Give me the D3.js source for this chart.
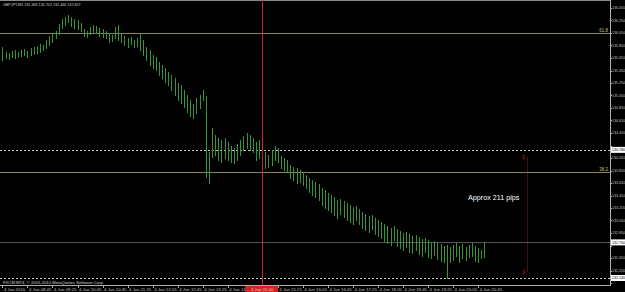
<!DOCTYPE html>
<html>
<head>
<meta charset="utf-8">
<script src="https://cdn.jsdelivr.net/npm/d3@7"></script>
<style>
  body { margin: 0; background: #000; }
  svg { display: block; }
  text { font-family: Arial, "Liberation Sans", sans-serif; }
</style>
</head>
<body>
<div id="chart"></div>
<script>
// bar highs and lows, one per 5 min bar from 08:05 to 20:55
var highs = [135.83,135.75,135.73,135.76,135.78,135.75,135.78,135.79,135.76,135.81,
  135.83,135.84,135.87,135.86,135.94,136.00,136.05,136.08,136.19,136.27,
  136.31,136.34,136.31,136.27,136.26,136.21,136.11,136.08,136.15,136.18,
  136.16,136.13,136.11,136.08,136.05,136.02,136.15,136.18,136.05,136.00,
  135.97,135.99,135.94,135.97,136.05,135.94,135.83,135.78,135.70,135.67,
  135.59,135.54,135.49,135.43,135.38,135.33,135.25,135.22,135.14,135.06,
  134.98,134.91,135.01,135.06,135.14,135.04,134.15,134.53,134.42,134.37,
  134.34,134.37,134.31,134.24,134.21,134.28,134.34,134.40,134.45,134.42,
  134.37,134.31,134.34,134.18,134.15,134.10,134.18,134.24,134.21,134.08,
  134.05,134.02,133.94,133.91,133.89,133.86,133.83,133.78,133.73,133.70,
  133.67,133.63,133.57,133.54,133.49,133.46,133.43,133.38,133.39,133.36,
  133.33,133.30,133.27,133.28,133.23,133.19,133.15,133.12,133.14,133.09,
  133.06,133.03,132.99,132.96,132.93,132.96,132.91,132.88,132.85,132.87,
  132.83,132.80,132.82,132.79,132.75,132.77,132.74,132.71,132.72,132.69,
  132.67,132.64,132.66,132.63,132.66,132.69,132.64,132.67,132.63,132.66,
  132.69,132.64,132.61,132.58,132.70];
var lows = [135.62,135.65,135.63,135.67,135.65,135.67,135.68,135.70,135.67,135.70,
  135.71,135.73,135.75,135.78,135.81,135.86,135.91,135.97,136.03,136.13,
  136.18,136.23,136.16,136.13,136.11,136.08,136.00,135.99,136.03,136.05,
  136.05,136.00,135.99,135.97,135.91,135.92,135.97,135.94,135.91,135.86,
  135.83,135.87,135.83,135.84,135.78,135.70,135.62,135.54,135.49,135.46,
  135.38,135.33,135.27,135.22,135.14,135.06,134.98,134.93,134.87,134.79,
  134.72,134.69,134.77,134.85,134.98,133.75,133.65,134.07,134.10,134.02,
  133.99,134.05,134.02,133.99,133.97,134.02,134.10,134.18,134.21,134.18,
  134.15,134.02,134.05,133.92,133.89,133.91,133.94,134.02,133.99,133.89,
  133.86,133.83,133.73,133.70,133.65,133.67,133.62,133.57,133.51,133.46,
  133.43,133.38,133.30,133.25,133.22,133.19,133.14,133.09,133.15,133.11,
  133.06,133.03,132.99,133.06,132.99,132.93,132.90,132.87,132.91,132.83,
  132.80,132.77,132.72,132.69,132.66,132.74,132.64,132.61,132.58,132.63,
  132.55,132.53,132.58,132.51,132.48,132.55,132.47,132.45,132.50,132.43,
  132.40,132.39,132.13,132.39,132.42,132.48,132.39,132.45,132.42,132.47,
  132.48,132.40,132.39,132.45,132.466];

// price scale labels
var priceTicks = [136.45,136.25,136.05,135.85,135.65,135.45,135.25,135.05,134.85,134.65,
  134.45,134.25,134.05,133.85,133.65,133.45,133.25,133.05,132.85,132.65,
  132.45,132.25,132.05];

// time labels, one every 8 bars (14:45 sits under the crosshair box)
var timeIdx = [0,8,16,24,32,40,48,56,64,72,88,96,104,112,120,128,136,144,152];
var timeLabels = ["4 Jun 2010","4 Jun 08:45","4 Jun 09:25","4 Jun 10:05","4 Jun 10:45",
  "4 Jun 11:25","4 Jun 12:05","4 Jun 12:45","4 Jun 13:25","4 Jun 14:05",
  "4 Jun 15:25","4 Jun 16:05","4 Jun 16:45","4 Jun 17:25","4 Jun 18:05","4 Jun 18:45",
  "4 Jun 19:25","4 Jun 20:05","4 Jun 20:45"];

// levels drawn on the chart
var fibLevels = [136.05, 133.83];
var fibNames = ["61.8", "38.2"];
var dotLevels = [134.18, 132.13];
var bidPrice = 132.70;
var crossIdx = 83, crossLabel = "4 Jun 15:00";
var measureIdx = 167.5, measureTop = 134.07, measureBottom = 132.23;

var width = 625, height = 292;
var plotRight = 610, plotBottom = 285;

var svg = d3.select("#chart")
  .append("svg")
    .attr("width", width)
    .attr("height", height)
    .style("background", "#000");

var x = d3.scaleLinear()
  .domain([0, 154])
  .range([2.4, 484.4]);

var y = d3.scaleLinear()
  .domain([132.05, 136.45])
  .range([283, 8]);

function px(v) { return Math.round(v) + 0.5; }

// frame
svg.append("line")
  .attr("x1", 0).attr("x2", plotRight).attr("y1", 0.5).attr("y2", 0.5)
  .attr("stroke", "#8a8a8a");
svg.append("line")
  .attr("x1", px(plotRight)).attr("x2", px(plotRight)).attr("y1", 0).attr("y2", plotBottom)
  .attr("stroke", "#b0b0b0");
svg.append("line")
  .attr("x1", 0).attr("x2", plotRight + 1).attr("y1", px(plotBottom)).attr("y2", px(plotBottom))
  .attr("stroke", "#b0b0b0");

// fibonacci levels
svg.selectAll("fib")
  .data(fibLevels)
  .enter()
  .append("line")
    .attr("x1", 0).attr("x2", plotRight)
    .attr("y1", function(d) { return px(y(d)); })
    .attr("y2", function(d) { return px(y(d)); })
    .attr("stroke", "#8a8656");
svg.selectAll("fibtxt")
  .data(fibLevels)
  .enter()
  .append("text")
    .attr("x", 608)
    .attr("y", function(d) { return y(d) - 1; })
    .attr("text-anchor", "end")
    .style("font-size", "4.5px")
    .style("fill", "#c8c060")
    .text(function(d, i) { return fibNames[i]; });

// dotted lines
svg.selectAll("dot")
  .data(dotLevels)
  .enter()
  .append("line")
    .attr("x1", 0).attr("x2", plotRight)
    .attr("y1", function(d) { return px(y(d)); })
    .attr("y2", function(d) { return px(y(d)); })
    .attr("stroke", "#c8c8c8")
    .attr("stroke-dasharray", "2,2");

// bid line
svg.append("line")
  .attr("x1", 0).attr("x2", plotRight)
  .attr("y1", px(y(bidPrice))).attr("y2", px(y(bidPrice)))
  .attr("stroke", "#555555");

// bars
svg.append("g")
  .selectAll("bar")
  .data(highs)
  .enter()
  .append("line")
    .attr("x1", function(d, i) { return px(x(i)); })
    .attr("x2", function(d, i) { return px(x(i)); })
    .attr("y1", function(d) { return Math.round(y(d)); })
    .attr("y2", function(d, i) { return Math.round(y(lows[i])) + 1; })
    .attr("stroke", "#389438");

// crosshair vertical line
svg.append("line")
  .attr("x1", px(x(crossIdx))).attr("x2", px(x(crossIdx)))
  .attr("y1", 0).attr("y2", plotBottom)
  .attr("stroke", "#c42a2a");

// measuring line
svg.append("line")
  .attr("x1", px(x(measureIdx))).attr("x2", px(x(measureIdx)))
  .attr("y1", y(measureTop)).attr("y2", y(measureBottom))
  .attr("stroke", "#901818")
  .attr("stroke-dasharray", "1,1");
svg.selectAll("mzero")
  .data([measureTop, measureBottom])
  .enter()
  .append("text")
    .attr("x", x(measureIdx) - 1.5)
    .attr("y", function(d) { return y(d) + 2; })
    .attr("text-anchor", "end")
    .style("font-size", "5px")
    .style("fill", "#c03030")
    .text("0");

svg.append("text")
  .attr("x", 468)
  .attr("y", 200)
  .style("font-size", "7.2px")
  .style("fill", "#ffffff")
  .text("Approx 211 pips");

// highlighted prices on the axis
var boxes = dotLevels.concat([bidPrice]);

// price axis (labels under a highlighted box are hidden)
svg.selectAll("ptick")
  .data(priceTicks)
  .enter()
  .append("line")
    .attr("x1", plotRight).attr("x2", plotRight + 2)
    .attr("y1", function(d) { return px(y(d)); })
    .attr("y2", function(d) { return px(y(d)); })
    .attr("stroke", "#b0b0b0");
svg.selectAll("plabel")
  .data(priceTicks.filter(function(d) {
    return boxes.every(function(b) { return Math.abs(y(b) - y(d)) > 6; });
  }))
  .enter()
  .append("text")
    .attr("x", 612)
    .attr("y", function(d) { return y(d) + 1.4; })
    .style("font-size", "3.6px")
    .style("fill", "#c0c0c0")
    .text(function(d) { return d3.format(".3f")(d); });

svg.selectAll("pbox")
  .data(boxes)
  .enter()
  .append("rect")
    .attr("x", 611)
    .attr("y", function(d) { return y(d) - 3; })
    .attr("width", 14)
    .attr("height", 6)
    .style("fill", "#ffffff");
svg.selectAll("pboxtxt")
  .data(boxes)
  .enter()
  .append("text")
    .attr("x", 612)
    .attr("y", function(d) { return y(d) + 1.4; })
    .style("font-size", "3.6px")
    .style("fill", "#000000")
    .text(function(d) { return d3.format(".3f")(d); });

// time axis
svg.selectAll("ttick")
  .data(timeIdx)
  .enter()
  .append("line")
    .attr("x1", function(d) { return px(x(d)); })
    .attr("x2", function(d) { return px(x(d)); })
    .attr("y1", plotBottom).attr("y2", plotBottom + 3)
    .attr("stroke", "#b0b0b0");
svg.selectAll("tlabel")
  .data(timeIdx)
  .enter()
  .append("text")
    .attr("x", function(d) { return x(d) + 1.5; })
    .attr("y", 290.5)
    .style("font-size", "4.3px")
    .style("fill", "#c0c0c0")
    .text(function(d, i) { return timeLabels[i]; });

svg.append("rect")
  .attr("x", x(crossIdx) - 17)
  .attr("y", 286)
  .attr("width", 33)
  .attr("height", 6)
  .style("fill", "#d42222");
svg.append("text")
  .attr("x", x(crossIdx))
  .attr("y", 290.5)
  .attr("text-anchor", "middle")
  .style("font-size", "4.3px")
  .style("fill", "#f0c0c0")
  .text(crossLabel);

// header and copyright
svg.append("text")
  .attr("x", 3)
  .attr("y", 6)
  .style("font-size", "3.7px")
  .style("fill", "#d0d0d0")
  .text("GBPJPY,M5  132.466 132.701 132.466 132.657");
svg.append("text")
  .attr("x", 3)
  .attr("y", 283.5)
  .style("font-size", "4.2px")
  .style("fill", "#d0d0d0")
  .text("FXCM MT4, © 2001-2010 MetaQuotes Software Corp.");
</script>
</body>
</html>
